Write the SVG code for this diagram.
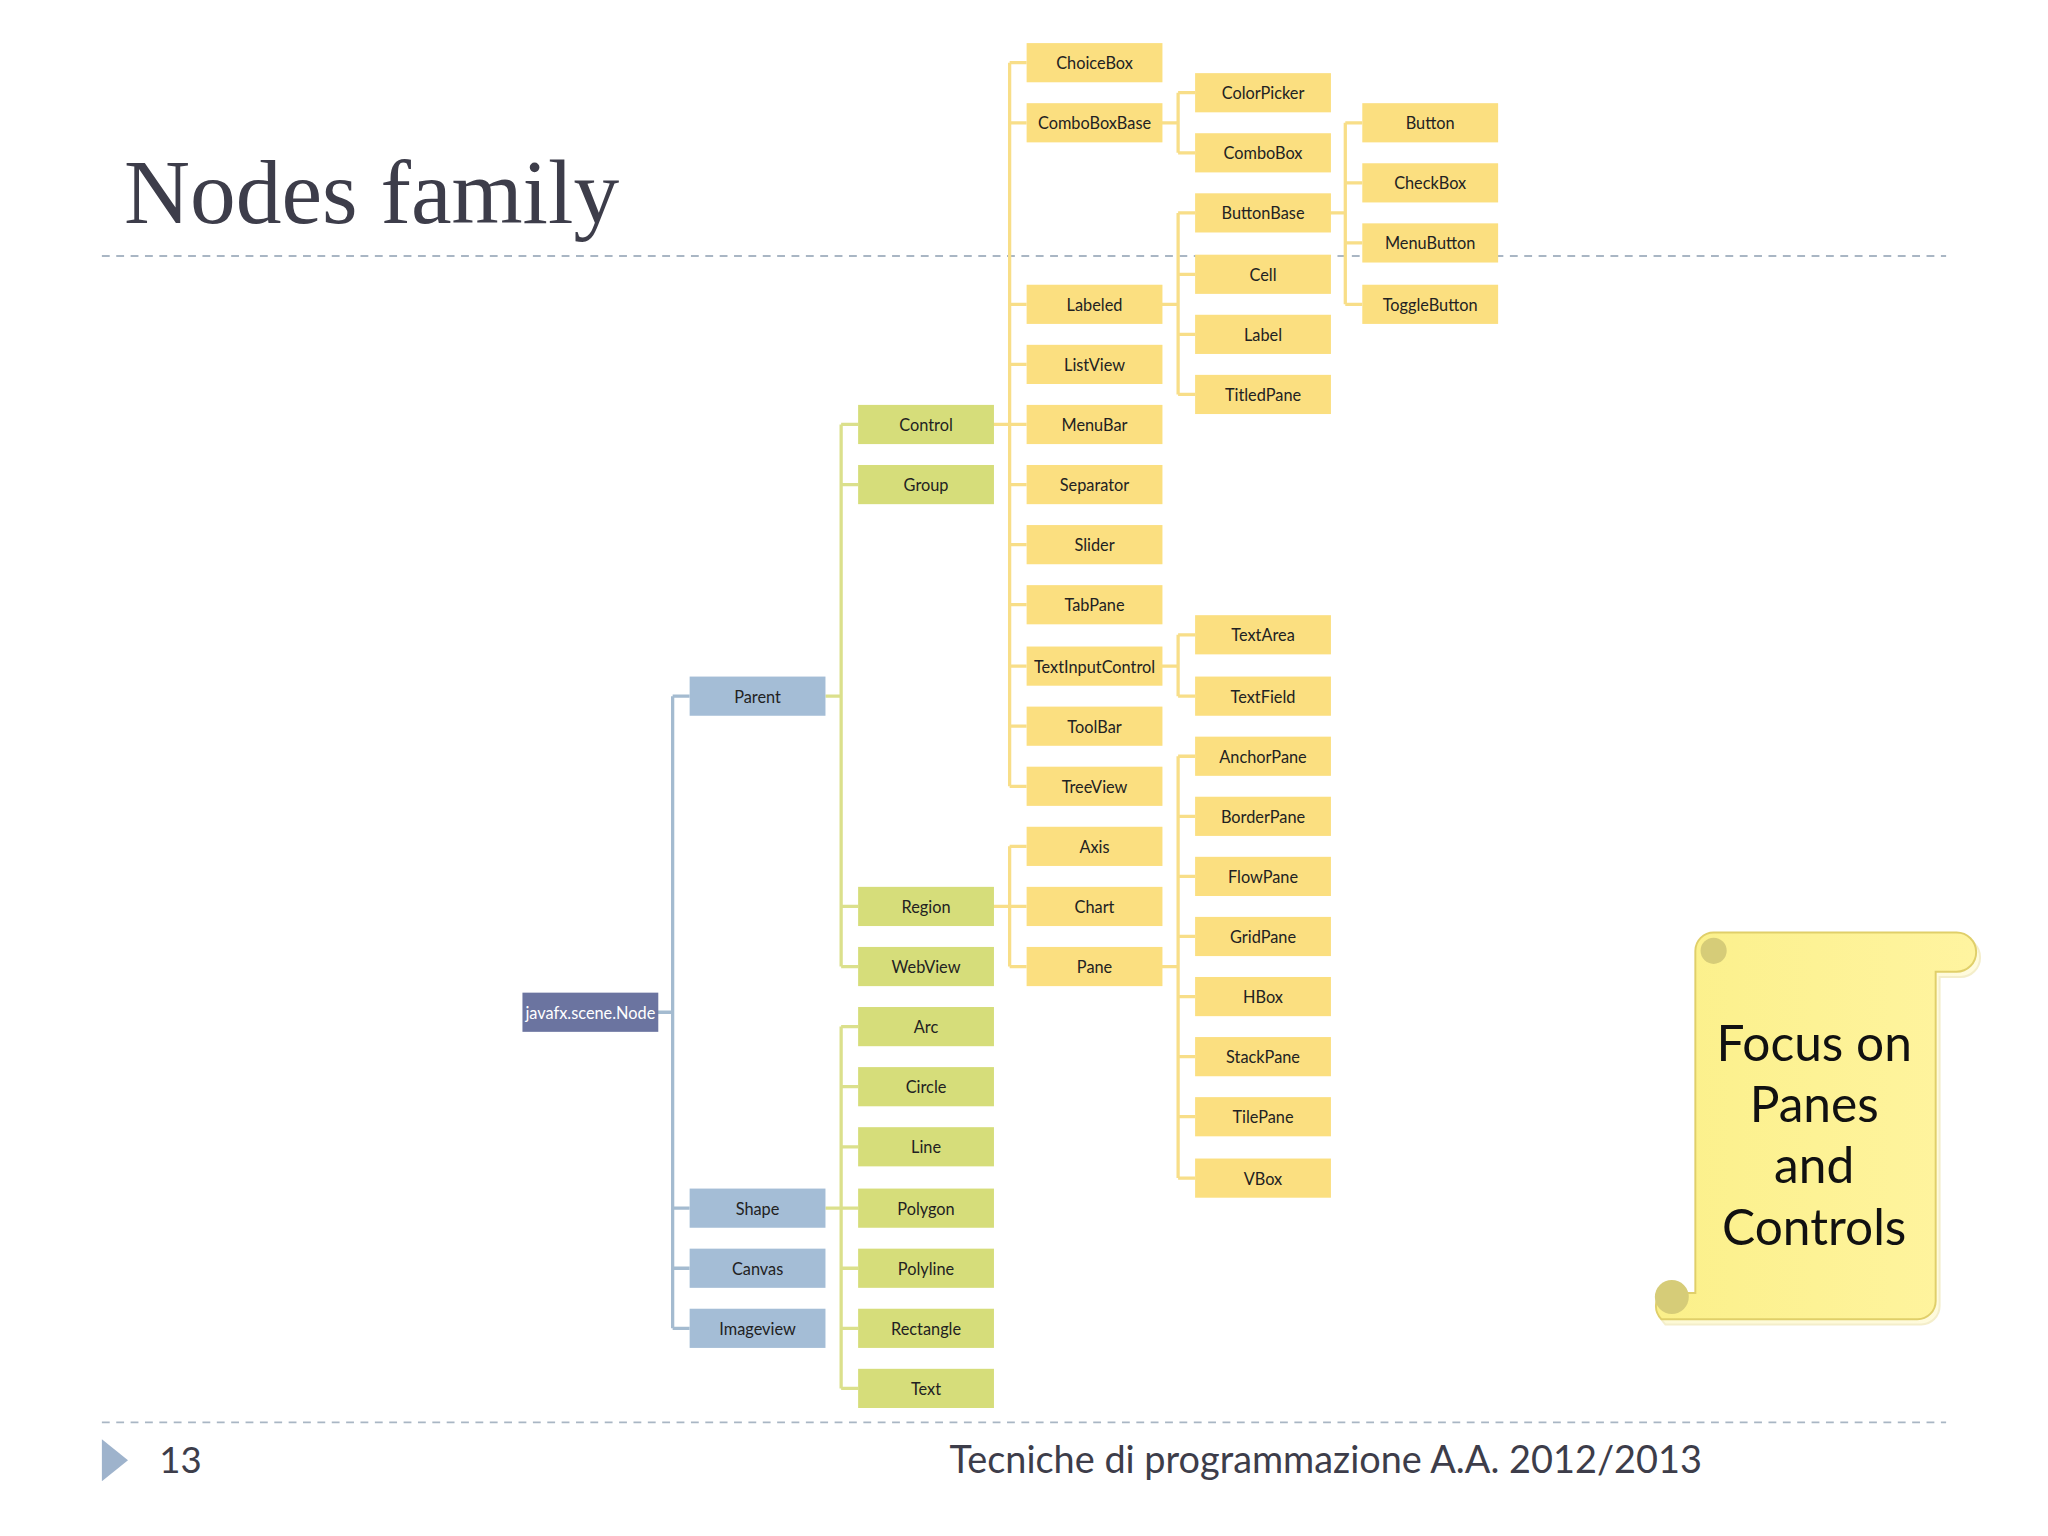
<svg xmlns="http://www.w3.org/2000/svg" width="2048" height="1536" viewBox="0 0 2048 1536">
<defs>
<style>
.b rect{stroke:none}
.b text{font-family:Lato,"Liberation Sans",sans-serif;font-size:12.5px;fill:#222;text-anchor:middle;dominant-baseline:central}
.c0 rect{fill:#6b74a0}.c0 text{fill:#fff}
.c1 rect{fill:#a4bdd6}
.c2 rect{fill:#d6dd7a}
.c3 rect{fill:#fbdf80}
.lb{stroke:#a4bbd0;stroke-width:2.5;fill:none}
.lg{stroke:#dbe08c;stroke-width:2.5;fill:none}
.ly{stroke:#f8de88;stroke-width:2.5;fill:none}
</style>
<linearGradient id="sg" x1="0" x2="1"><stop offset="0" stop-color="#fbf08a"/><stop offset="1" stop-color="#fff4a0"/></linearGradient>
</defs>
<rect width="2048" height="1536" fill="#fff"/>
<g transform="scale(1.30612)">
<text x="95" y="171" font-family="Liberation Serif,serif" font-size="70" fill="#3d3d4a">Nodes family</text>
<line x1="78" y1="196" x2="1490" y2="196" stroke="#a9b6c4" stroke-width="1.5" stroke-dasharray="6,5"/>
<line x1="78" y1="1089" x2="1490" y2="1089" stroke="#a9b6c4" stroke-width="1.5" stroke-dasharray="6,5"/>
<polygon points="78,1102 98,1118 78,1134" fill="#9eb3cc"/>
<text x="122" y="1128" font-family="Lato,sans-serif" font-size="28" fill="#3d3d4a">13</text>
<text x="1303" y="1128" font-family="Lato,sans-serif" font-size="29" fill="#3d3d4a" text-anchor="end">Tecniche di programmazione    A.A. 2012/2013</text>

<g id="connectors">
<path class="lb" d="M503,775H515M515,533V1017M515,533H528M515,925H528M515,971H528M515,1017H528"/>
<path class="lg" d="M632,533H644M644,325V740M644,325H657M644,371H657M644,694H657M644,740H657"/>
<path class="lg" d="M632,925H644M644,786V1063M644,786H657M644,832H657M644,878H657M644,925H657M644,971H657M644,1017H657M644,1063H657"/>
<path class="ly" d="M760,325H773M773,48V602M773,48H786M773,94H786M773,233H786M773,279H786M773,325H786M773,371H786M773,417H786M773,463H786M773,510H786M773,556H786M773,602H786"/>
<path class="ly" d="M760,694H773M773,648V740M773,648H786M773,694H786M773,740H786"/>
<path class="ly" d="M889,94H902M902,71V117M902,71H915M902,117H915"/>
<path class="ly" d="M889,233H902M902,163V302M902,163H915M902,210H915M902,256H915M902,302H915"/>
<path class="ly" d="M889,510H902M902,486V533M902,486H915M902,533H915"/>
<path class="ly" d="M889,740H902M902,579V902M902,579H915M902,625H915M902,671H915M902,717H915M902,763H915M902,809H915M902,855H915M902,902H915"/>
<path class="ly" d="M1018,163H1030M1030,94V233M1030,94H1043M1030,140H1043M1030,186H1043M1030,233H1043"/>
</g>

<g id="n-node" class="b c0"><rect x="400" y="760" width="104" height="30"/><text x="452" y="775">javafx.scene.Node</text></g>
<g id="n-parent" class="b c1"><rect x="528" y="518" width="104" height="30"/><text x="580" y="533">Parent</text></g>
<g id="n-shape" class="b c1"><rect x="528" y="910" width="104" height="30"/><text x="580" y="925">Shape</text></g>
<g id="n-canvas" class="b c1"><rect x="528" y="956" width="104" height="30"/><text x="580" y="971">Canvas</text></g>
<g id="n-imageview" class="b c1"><rect x="528" y="1002" width="104" height="30"/><text x="580" y="1017">Imageview</text></g>

<g id="n-control" class="b c2"><rect x="657" y="310" width="104" height="30"/><text x="709" y="325">Control</text></g>
<g id="n-group" class="b c2"><rect x="657" y="356" width="104" height="30"/><text x="709" y="371">Group</text></g>
<g id="n-region" class="b c2"><rect x="657" y="679" width="104" height="30"/><text x="709" y="694">Region</text></g>
<g id="n-webview" class="b c2"><rect x="657" y="725" width="104" height="30"/><text x="709" y="740">WebView</text></g>
<g id="n-arc" class="b c2"><rect x="657" y="771" width="104" height="30"/><text x="709" y="786">Arc</text></g>
<g id="n-circle" class="b c2"><rect x="657" y="817" width="104" height="30"/><text x="709" y="832">Circle</text></g>
<g id="n-line" class="b c2"><rect x="657" y="863" width="104" height="30"/><text x="709" y="878">Line</text></g>
<g id="n-polygon" class="b c2"><rect x="657" y="910" width="104" height="30"/><text x="709" y="925">Polygon</text></g>
<g id="n-polyline" class="b c2"><rect x="657" y="956" width="104" height="30"/><text x="709" y="971">Polyline</text></g>
<g id="n-rectangle" class="b c2"><rect x="657" y="1002" width="104" height="30"/><text x="709" y="1017">Rectangle</text></g>
<g id="n-text" class="b c2"><rect x="657" y="1048" width="104" height="30"/><text x="709" y="1063">Text</text></g>

<g id="n-choicebox" class="b c3"><rect x="786" y="33" width="104" height="30"/><text x="838" y="48">ChoiceBox</text></g>
<g id="n-comboboxbase" class="b c3"><rect x="786" y="79" width="104" height="30"/><text x="838" y="94">ComboBoxBase</text></g>
<g id="n-labeled" class="b c3"><rect x="786" y="218" width="104" height="30"/><text x="838" y="233">Labeled</text></g>
<g id="n-listview" class="b c3"><rect x="786" y="264" width="104" height="30"/><text x="838" y="279">ListView</text></g>
<g id="n-menubar" class="b c3"><rect x="786" y="310" width="104" height="30"/><text x="838" y="325">MenuBar</text></g>
<g id="n-separator" class="b c3"><rect x="786" y="356" width="104" height="30"/><text x="838" y="371">Separator</text></g>
<g id="n-slider" class="b c3"><rect x="786" y="402" width="104" height="30"/><text x="838" y="417">Slider</text></g>
<g id="n-tabpane" class="b c3"><rect x="786" y="448" width="104" height="30"/><text x="838" y="463">TabPane</text></g>
<g id="n-textinputcontrol" class="b c3"><rect x="786" y="495" width="104" height="30"/><text x="838" y="510">TextInputControl</text></g>
<g id="n-toolbar" class="b c3"><rect x="786" y="541" width="104" height="30"/><text x="838" y="556">ToolBar</text></g>
<g id="n-treeview" class="b c3"><rect x="786" y="587" width="104" height="30"/><text x="838" y="602">TreeView</text></g>
<g id="n-axis" class="b c3"><rect x="786" y="633" width="104" height="30"/><text x="838" y="648">Axis</text></g>
<g id="n-chart" class="b c3"><rect x="786" y="679" width="104" height="30"/><text x="838" y="694">Chart</text></g>
<g id="n-pane" class="b c3"><rect x="786" y="725" width="104" height="30"/><text x="838" y="740">Pane</text></g>

<g id="n-colorpicker" class="b c3"><rect x="915" y="56" width="104" height="30"/><text x="967" y="71">ColorPicker</text></g>
<g id="n-combobox" class="b c3"><rect x="915" y="102" width="104" height="30"/><text x="967" y="117">ComboBox</text></g>
<g id="n-buttonbase" class="b c3"><rect x="915" y="148" width="104" height="30"/><text x="967" y="163">ButtonBase</text></g>
<g id="n-cell" class="b c3"><rect x="915" y="195" width="104" height="30"/><text x="967" y="210">Cell</text></g>
<g id="n-label" class="b c3"><rect x="915" y="241" width="104" height="30"/><text x="967" y="256">Label</text></g>
<g id="n-titledpane" class="b c3"><rect x="915" y="287" width="104" height="30"/><text x="967" y="302">TitledPane</text></g>
<g id="n-textarea" class="b c3"><rect x="915" y="471" width="104" height="30"/><text x="967" y="486">TextArea</text></g>
<g id="n-textfield" class="b c3"><rect x="915" y="518" width="104" height="30"/><text x="967" y="533">TextField</text></g>
<g id="n-anchorpane" class="b c3"><rect x="915" y="564" width="104" height="30"/><text x="967" y="579">AnchorPane</text></g>
<g id="n-borderpane" class="b c3"><rect x="915" y="610" width="104" height="30"/><text x="967" y="625">BorderPane</text></g>
<g id="n-flowpane" class="b c3"><rect x="915" y="656" width="104" height="30"/><text x="967" y="671">FlowPane</text></g>
<g id="n-gridpane" class="b c3"><rect x="915" y="702" width="104" height="30"/><text x="967" y="717">GridPane</text></g>
<g id="n-hbox" class="b c3"><rect x="915" y="748" width="104" height="30"/><text x="967" y="763">HBox</text></g>
<g id="n-stackpane" class="b c3"><rect x="915" y="794" width="104" height="30"/><text x="967" y="809">StackPane</text></g>
<g id="n-tilepane" class="b c3"><rect x="915" y="840" width="104" height="30"/><text x="967" y="855">TilePane</text></g>
<g id="n-vbox" class="b c3"><rect x="915" y="887" width="104" height="30"/><text x="967" y="902">VBox</text></g>

<g id="n-button" class="b c3"><rect x="1043" y="79" width="104" height="30"/><text x="1095" y="94">Button</text></g>
<g id="n-checkbox" class="b c3"><rect x="1043" y="125" width="104" height="30"/><text x="1095" y="140">CheckBox</text></g>
<g id="n-menubutton" class="b c3"><rect x="1043" y="171" width="104" height="30"/><text x="1095" y="186">MenuButton</text></g>
<g id="n-togglebutton" class="b c3"><rect x="1043" y="218" width="104" height="30"/><text x="1095" y="233">ToggleButton</text></g>

<g id="scroll">
<path d="M1298,740 V990 H1272 A14,14 0 0 0 1272,1010 H1468 A14,14 0 0 0 1482,996 V744 H1498 A14,14 0 0 0 1498,714 H1312 A14,14 0 0 0 1298,728 Z" fill="url(#sg)" stroke="#e0cf6a" stroke-width="1.5" transform="translate(3,4)" opacity="0.35"/>
<path d="M1298,740 V990 H1272 A14,14 0 0 0 1272,1010 H1468 A14,14 0 0 0 1482,996 V744 H1498 A14,14 0 0 0 1498,714 H1312 A14,14 0 0 0 1298,728 Z" fill="url(#sg)" stroke="#e0cf6a" stroke-width="1.5"/>
<circle cx="1312" cy="728" r="10" fill="#d6cc78"/>
<circle cx="1280" cy="993" r="13" fill="#d6cc78"/>
<g font-family="Lato,sans-serif" font-size="38" fill="#111" text-anchor="middle">
<text x="1389" y="812">Focus on</text>
<text x="1389" y="859">Panes</text>
<text x="1389" y="906">and</text>
<text x="1389" y="953">Controls</text>
</g>
</g>
</g>
</svg>
